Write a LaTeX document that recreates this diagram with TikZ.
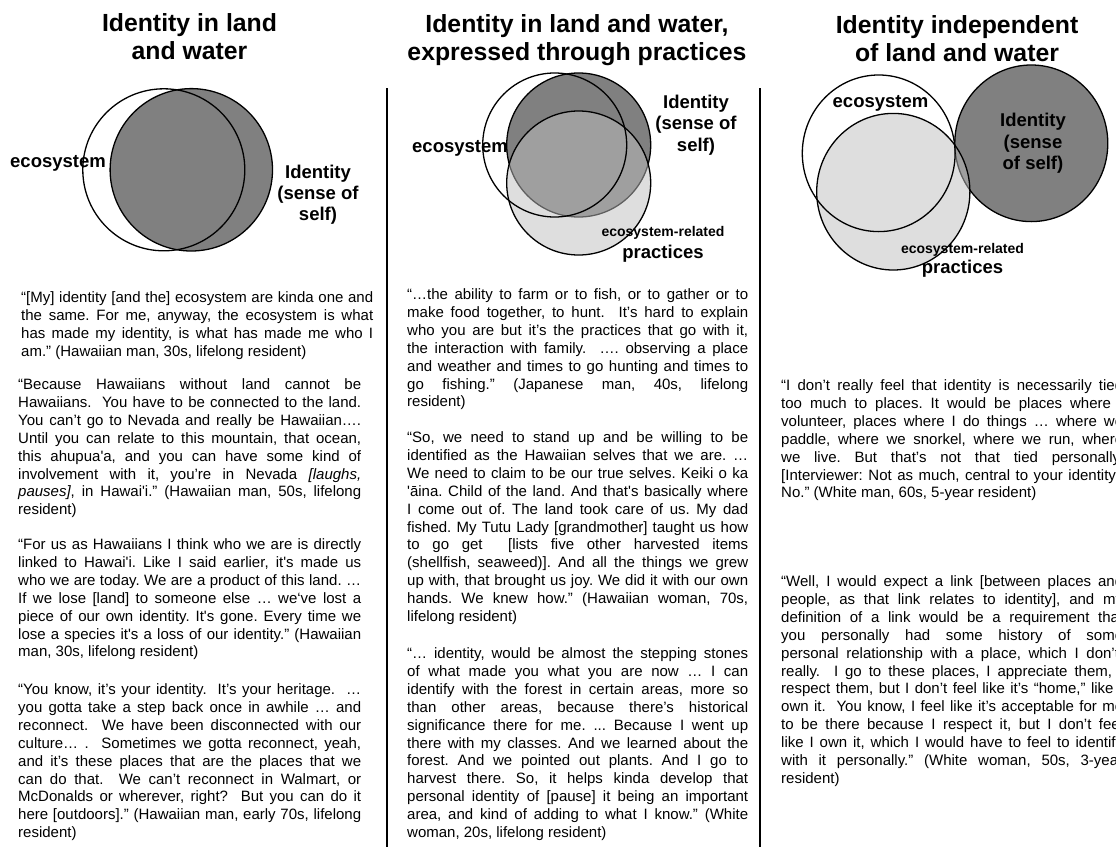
\documentclass[tikz,border=0pt]{standalone}
\usepackage{fontspec}
\newfontfamily\qf{Liberation Sans}
\frenchspacing
\definecolor{idgray}{RGB}{128,128,128}
\definecolor{prgray}{RGB}{191,191,191}
\newcommand\JL[1]{\hbox to\hsize{#1}}
\newcommand\LL[1]{\hbox{#1}}
\newcommand\qbody[2]{\vtop{\hsize=#1\qf\fontsize{15bp}{17.9bp}\selectfont\frenchspacing #2}}
\newcommand\cstack[2]{\vtop{\baselineskip=#1\lineskiplimit=-100bp\halign{\hfil##\hfil\cr#2\crcr}}}
\tikzset{
  ring/.style={draw=black, line width=1.3bp},
  idfill/.style={fill=idgray},
  prfill/.style={fill=prgray, fill opacity=0.5},
  sepline/.style={draw=black, line width=2bp},
  ttl/.style={anchor=base, inner sep=0pt, font=\qf\bfseries\fontsize{24.8bp}{28bp}\selectfont},
  lbl/.style={inner sep=0pt, font=\qf\bfseries\fontsize{18.5bp}{21bp}\selectfont},
  qp/.style={anchor=base west, inner sep=0pt}
}
\begin{document}
\begin{tikzpicture}[x=1bp,y=-1bp]
\useasboundingbox (0,0) rectangle (1116,847);
\clip (0,0) rectangle (1116,847);
\fill[white] (0,0) rectangle (1116,847);

% separators
\coordinate (s1t) at (386.5,88); \coordinate (s1b) at (386.5,848);
\coordinate (s2t) at (759.5,88); \coordinate (s2b) at (759.5,848);
\draw[sepline] (s1t) -- (s1b);
\draw[sepline] (s2t) -- (s2b);

% titles
\node[ttl] (t1) at (189.5,31.5) {\cstack{28bp}{Identity in land\cr and water}};
\node[ttl] (t2) at (577,32) {\cstack{28.5bp}{Identity in land and water,\cr expressed through practices}};
\node[ttl] (t3) at (957,33) {\cstack{28bp}{Identity independent\cr of land and water}};

% panel 1 venn
\path[ring, idfill] (191.3,169.8) circle[radius=81.2bp];
\path[ring] (163.8,169.8) circle[radius=81bp];
\node[lbl, anchor=base west] (e1) at (10,167.5) {ecosystem};
\node[lbl, anchor=base] (i1) at (318,178.2) {\cstack{21bp}{Identity\cr(sense of\cr self)}};

% panel 2 venn
\path[ring, idfill] (578.7,145) circle[radius=72bp];
\path[ring, prfill] (578.7,183) circle[radius=72bp];
\path[ring] (554.7,145) circle[radius=72bp];
\node[lbl, anchor=base west] (e2) at (412,152) {ecosystem};
\node[lbl, anchor=base] (i2) at (696,108.2) {\cstack{21.5bp}{Identity\cr(sense of\cr self)}};
\node[lbl, anchor=base] (p2) at (663,236) {\cstack{22.5bp}{{\fontsize{14bp}{16bp}\selectfont ecosystem-related}\cr practices}};

% panel 3 venn
\path[ring, idfill] (1031.3,143.3) ellipse[x radius=76.5bp, y radius=78.3bp];
\path[ring, prfill] (893.3,191.7) ellipse[x radius=76.6bp, y radius=78.3bp];
\path[ring] (878.7,153.3) ellipse[x radius=76.4bp, y radius=78.3bp];
\node[lbl, anchor=base] (e3) at (880.5,107.5) {ecosystem};
\node[lbl, anchor=base] (i3) at (1033,126.5) {\cstack{21.5bp}{Identity\cr(sense\cr of self)}};
\node[lbl, anchor=base] (p3) at (962.5,253) {\cstack{20bp}{{\fontsize{14bp}{16bp}\selectfont ecosystem-related}\cr practices}};

% column 1
\node[qp] (q11) at (21,302.5) {\qbody{352bp}{%
\JL{“[My] identity [and the] ecosystem are kinda one and}
\JL{the same. For me, anyway, the ecosystem is what}
\JL{has made my identity, is what has made me who I}
\LL{am.” (Hawaiian man, 30s, lifelong resident)}}};
\node[qp] (q12) at (18,389.5) {\qbody{343bp}{%
\JL{“Because Hawaiians without land cannot be}
\JL{Hawaiians.\ \ You have to be connected to the land.}
\JL{You can’t go to Nevada and really be Hawaiian….}
\JL{Until you can relate to this mountain, that ocean,}
\JL{this ahupua'a, and you can have some kind of}
\JL{involvement with it, you’re in Nevada \textit{[laughs,}}
\JL{\textit{pauses]}, in Hawai'i.” (Hawaiian man, 50s, lifelong}
\LL{resident)}}};
\node[qp] (q13) at (18,549.5) {\qbody{343bp}{%
\JL{“For us as Hawaiians I think who we are is directly}
\JL{linked to Hawai'i. Like I said earlier, it's made us}
\JL{who we are today. We are a product of this land. …}
\JL{If we lose [land] to someone else … we‘ve lost a}
\JL{piece of our own identity. It's gone. Every time we}
\JL{lose a species it's a loss of our identity.” (Hawaiian}
\LL{man, 30s, lifelong resident)}}};
\node[qp] (q14) at (18,694.5) {\qbody{343bp}{%
\JL{“You know, it’s your identity.\ \ It’s your heritage.\ \ …}
\JL{you gotta take a step back once in awhile … and}
\JL{reconnect.\ \ We have been disconnected with our}
\JL{culture… .\ \ Sometimes we gotta reconnect, yeah,}
\JL{and it’s these places that are the places that we}
\JL{can do that.\ \ We can’t reconnect in Walmart, or}
\JL{McDonalds or wherever, right?\ \ But you can do it}
\JL{here [outdoors].” (Hawaiian man, early 70s, lifelong}
\LL{resident)}}};

% column 2
\node[qp] (q21) at (407,299.5) {\qbody{341bp}{%
\JL{“…the ability to farm or to fish, or to gather or to}
\JL{make food together, to hunt.\ \ It’s hard to explain}
\JL{who you are but it’s the practices that go with it,}
\JL{the interaction with family.\ \ …. observing a place}
\JL{and weather and times to go hunting and times to}
\JL{go fishing.” (Japanese man, 40s, lifelong}
\LL{resident)}}};
\node[qp] (q22) at (407,442.5) {\qbody{341bp}{%
\JL{“So, we need to stand up and be willing to be}
\JL{identified as the Hawaiian selves that we are. …}
\JL{We need to claim to be our true selves. Keiki o ka}
\JL{'āina. Child of the land. And that's basically where}
\JL{I come out of. The land took care of us. My dad}
\JL{fished. My Tutu Lady [grandmother] taught us how}
\JL{to go get\ \ [lists five other harvested items}
\JL{(shellfish, seaweed)]. And all the things we grew}
\JL{up with, that brought us joy. We did it with our own}
\JL{hands. We knew how.” (Hawaiian woman, 70s,}
\LL{lifelong resident)}}};
\node[qp] (q23) at (407,658.5) {\qbody{341bp}{%
\JL{“… identity, would be almost the stepping stones}
\JL{of what made you what you are now … I can}
\JL{identify with the forest in certain areas, more so}
\JL{than other areas, because there’s historical}
\JL{significance there for me. ... Because I went up}
\JL{there with my classes. And we learned about the}
\JL{forest. And we pointed out plants. And I go to}
\JL{harvest there. So, it helps kinda develop that}
\JL{personal identity of [pause] it being an important}
\JL{area, and kind of adding to what I know.” (White}
\LL{woman, 20s, lifelong resident)}}};

% column 3
\node[qp] (q31) at (781,390.5) {\qbody{342bp}{%
\JL{“I don’t really feel that identity is necessarily tied}
\JL{too much to places. It would be places where I}
\JL{volunteer, places where I do things … where we}
\JL{paddle, where we snorkel, where we run, where}
\JL{we live. But that’s not that tied personally.}
\JL{[Interviewer: Not as much, central to your identity.]}
\LL{No.” (White man, 60s, 5-year resident)}}};
\node[qp] (q32) at (781,586.5) {\qbody{342bp}{%
\JL{“Well, I would expect a link [between places and}
\JL{people, as that link relates to identity], and my}
\JL{definition of a link would be a requirement that}
\JL{you personally had some history of some}
\JL{personal relationship with a place, which I don’t,}
\JL{really.\ \ I go to these places, I appreciate them, I}
\JL{respect them, but I don’t feel like it’s “home,” like I}
\JL{own it.\ \ You know, I feel like it’s acceptable for me}
\JL{to be there because I respect it, but I don’t feel}
\JL{like I own it, which I would have to feel to identify}
\JL{with it personally.” (White woman, 50s, 3-year}
\LL{resident)}}};
\end{tikzpicture}
\end{document}
